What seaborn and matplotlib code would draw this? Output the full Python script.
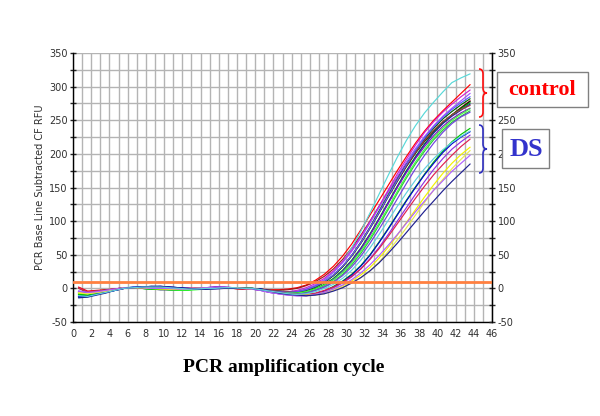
import numpy as np
import pandas as pd
import matplotlib
matplotlib.use("Agg")
import matplotlib.pyplot as plt
from matplotlib.path import Path
from matplotlib.patches import PathPatch, Rectangle
import seaborn as sns

# ---------------- data ----------------
cycles = list(range(1, 45))          # PCR cycle number
x_offset = -0.4                      # cycles are drawn slightly left of the integer ticks
threshold = 10

y_ticks = [-50, 0, 50, 100, 150, 200, 250, 300, 350]
y_labels_left = ["-50", "0", "50", "100", "150", "200", "250", "300", "350"]
# right-hand labels as visible in the reference (300 and most of 200 are hidden by the boxes)
y_labels_right = ["-50", "0", "50", "100", "150", "2", "250", "", "350"]
x_ticks = list(range(0, 47, 2))

# control wells
red1 = [2, -4, -3, -2, -1, 1, 1, 1, 0, -1, -1, -1, 0, 0, 0, 0, 1, 0, -1, -1, -1, -2,
        -2, -1, 1, 5, 12, 21, 33, 48, 66, 87, 109, 131, 153, 175, 196, 216, 234, 250, 264, 277, 290, 303]
darkred1 = [1, -5, -4, -2, -1, 1, 1, 1, 0, 0, -1, -1, -1, 0, 0, 0, 0, 0, -1, -1, -2, -3,
            -3, -2, 0, 4, 10, 18, 29, 43, 60, 79, 100, 122, 144, 165, 185, 203, 219, 233, 246, 258, 269, 279]
cyan1 = [-14, -13, -9, -6, -3, 1, 2, 2, 3, 2, 1, 0, -1, -1, -1, 0, 0, 1, 1, 0, -1, -3,
         -4, -5, -4, -1, 4, 12, 24, 40, 60, 85, 112, 140, 168, 195, 220, 242, 261, 277, 292, 306, 313, 319]
magenta1 = [-5, -7, -5, -3, -1, 1, 1, 1, 0, 0, -1, -1, 0, 0, 1, 2, 1, 0, 0, -1, -2, -5,
            -5, -5, -3, 1, 7, 15, 26, 40, 57, 77, 99, 122, 146, 170, 192, 213, 232, 248, 262, 274, 285, 295]
violet1 = [-8, -9, -6, -4, -2, 1, 1, 0, -1, -2, -2, -3, -2, -1, 0, 0, 1, 1, 0, 0, -2, -4,
           -5, -6, -5, -1, 5, 13, 24, 38, 55, 75, 97, 120, 143, 166, 188, 208, 226, 242, 256, 268, 279, 290]
black1 = [-12, -11, -8, -5, -3, 0, 1, 2, 2, 1, 0, 0, -1, -1, 0, 0, 0, 1, 0, 0, -1, -3,
          -4, -6, -6, -3, 2, 9, 19, 32, 48, 67, 89, 112, 136, 159, 181, 201, 219, 234, 247, 258, 268, 278]
darkgreen1 = [-9, -10, -7, -5, -2, 1, 1, 0, -1, -2, -2, -2, -2, -1, 0, 0, 1, 1, 0, -1, -2, -4,
              -5, -6, -6, -3, 2, 9, 19, 32, 49, 69, 91, 115, 139, 162, 184, 204, 222, 238, 252, 263, 273, 282]
green1 = [-7, -8, -6, -4, -2, 1, 1, 0, -1, -1, -2, -2, -2, -1, 0, 0, 1, 1, 0, 0, -1, -4,
          -5, -7, -7, -5, 0, 6, 15, 27, 42, 60, 81, 104, 128, 152, 175, 196, 215, 232, 246, 258, 267, 276]
navy1 = [-13, -12, -9, -6, -3, 0, 1, 2, 3, 3, 2, 1, 0, -1, -1, -1, 0, 0, 0, 0, -1, -3,
         -5, -7, -8, -6, -1, 5, 14, 26, 41, 59, 80, 103, 127, 151, 174, 195, 214, 231, 245, 256, 265, 274]
purple1 = [-6, -8, -6, -4, -2, 0, 1, 1, 0, 0, 0, -1, -1, 0, 1, 2, 2, 1, 0, -1, -3, -6,
           -8, -9, -9, -7, -2, 4, 13, 25, 40, 58, 79, 102, 126, 150, 172, 193, 211, 227, 241, 252, 261, 268]
green2 = [-10, -10, -7, -5, -2, 1, 1, 1, 0, -1, -1, -2, -2, -1, 0, 0, 0, 1, 0, 0, -2, -4,
          -6, -8, -9, -7, -3, 2, 10, 21, 35, 52, 72, 94, 117, 141, 164, 185, 204, 221, 235, 247, 256, 264]
darkred2 = [0, -6, -5, -3, -1, 1, 1, 1, 0, 0, -1, -1, -1, 0, 0, 0, 1, 0, -1, -1, -2, -3,
            -4, -5, -5, -2, 3, 10, 20, 33, 49, 68, 90, 113, 137, 160, 182, 202, 220, 235, 248, 258, 266, 272]
blue1 = [-4, -6, -4, -3, -1, 1, 1, 1, 1, 0, 0, -1, -1, 0, 1, 1, 1, 0, 0, -1, -2, -4,
         -5, -6, -5, -2, 3, 10, 20, 33, 49, 68, 90, 113, 137, 161, 184, 205, 224, 240, 254, 266, 276, 285]
lightgreen1 = [-8, -9, -7, -5, -2, 1, 1, 0, -1, -1, -2, -3, -3, -2, -1, 0, 0, 1, 0, 0, -2, -4,
               -6, -7, -7, -5, -1, 5, 13, 24, 38, 55, 75, 97, 120, 144, 167, 188, 207, 224, 238, 250, 259, 267]
blueviolet1 = [-6, -8, -6, -4, -2, 0, 1, 1, 1, 0, 0, -1, -1, 0, 1, 1, 1, 0, 0, -1, -2, -5,
               -7, -9, -9, -7, -3, 2, 9, 19, 32, 48, 67, 88, 110, 133, 156, 178, 198, 216, 232, 245, 255, 262]

# DS wells
ds_green = [-9, -10, -7, -5, -2, 1, 1, 0, -1, -1, -2, -2, -2, -1, 0, 0, 0, 1, 0, 0, -2, -5,
            -7, -9, -10, -10, -8, -4, 3, 11, 21, 34, 50, 69, 89, 110, 131, 151, 170, 188, 204, 218, 229, 238]
ds_blue = [-12, -12, -9, -6, -3, 0, 2, 2, 2, 3, 2, 1, 0, -1, -1, 0, 0, 0, 0, 0, -1, -4,
           -6, -8, -10, -10, -8, -4, 2, 10, 20, 33, 49, 68, 88, 109, 130, 150, 169, 186, 202, 215, 225, 233]
ds_purple = [-5, -7, -6, -4, -2, 0, 1, 1, 0, 0, -1, -1, 0, 0, 1, 2, 2, 1, 0, -1, -3, -6,
             -8, -10, -11, -11, -9, -5, 1, 8, 17, 29, 44, 61, 80, 100, 120, 140, 159, 177, 193, 207, 218, 228]
ds_red = [1, -5, -4, -3, -1, 1, 1, 1, 0, 0, -1, -1, 0, 0, 0, 0, 1, 0, -1, -1, -2, -4,
          -6, -8, -9, -9, -7, -3, 2, 9, 18, 29, 43, 59, 77, 96, 115, 134, 152, 169, 184, 198, 211, 222]
ds_yellow1 = [-7, -8, -6, -4, -2, 1, 1, 1, 0, -1, -1, -1, -1, 0, 0, 0, 1, 1, 0, 0, -2, -5,
              -7, -9, -10, -10, -9, -6, -1, 4, 11, 20, 31, 45, 61, 79, 98, 117, 136, 154, 171, 186, 199, 210]
ds_yellow2 = [-6, -8, -6, -4, -2, 1, 1, 1, 0, 0, -1, -1, -1, 0, 0, 0, 1, 1, 0, -1, -2, -5,
              -7, -9, -10, -11, -10, -8, -3, 2, 8, 16, 26, 39, 55, 72, 90, 109, 128, 146, 162, 178, 192, 205]
ds_violet = [-4, -6, -5, -3, -1, 1, 1, 1, 0, 0, 0, -1, -1, 0, 1, 1, 1, 0, 0, -1, -3, -6,
             -8, -10, -11, -11, -9, -6, -1, 5, 13, 23, 35, 49, 64, 80, 97, 114, 130, 146, 160, 174, 186, 198]
ds_navy = [-14, -13, -10, -7, -3, 0, 1, 2, 3, 3, 2, 1, 0, -1, -1, 0, 0, 0, 0, 0, -2, -4,
           -7, -9, -10, -11, -10, -8, -4, 1, 8, 16, 26, 38, 52, 67, 83, 99, 115, 130, 145, 159, 172, 185]
ds_cyan = [-11, -12, -9, -6, -3, 0, 1, 2, 2, 2, 1, 0, -1, -1, 0, 0, 1, 1, 0, 0, -2, -4,
           -6, -8, -9, -8, -5, 0, 6, 15, 27, 42, 60, 80, 101, 122, 142, 161, 178, 193, 206, 217, 226, 234]

wells = {
    "red1": red1, "darkred1": darkred1, "cyan1": cyan1, "magenta1": magenta1,
    "violet1": violet1, "black1": black1, "darkgreen1": darkgreen1, "green1": green1,
    "navy1": navy1, "purple1": purple1, "green2": green2, "darkred2": darkred2,
    "blue1": blue1, "lightgreen1": lightgreen1, "blueviolet1": blueviolet1,
    "ds_green": ds_green, "ds_blue": ds_blue, "ds_purple": ds_purple, "ds_red": ds_red,
    "ds_yellow1": ds_yellow1, "ds_yellow2": ds_yellow2, "ds_violet": ds_violet,
    "ds_navy": ds_navy, "ds_cyan": ds_cyan,
}

colors = {
    "red1": "#ff0000", "darkred1": "#a01818", "cyan1": "#58d8d8", "magenta1": "#d020d0",
    "violet1": "#a050ff", "black1": "#101010", "darkgreen1": "#006400", "green1": "#00b400",
    "navy1": "#2020a0", "purple1": "#8010c8", "green2": "#30c040", "darkred2": "#984040",
    "blue1": "#5858ff", "lightgreen1": "#40ff40", "blueviolet1": "#7040e0",
    "ds_green": "#00c800", "ds_blue": "#0000d0", "ds_purple": "#9030e0", "ds_red": "#e02050",
    "ds_yellow1": "#f2f200", "ds_yellow2": "#e8e850", "ds_violet": "#b060ff",
    "ds_navy": "#202090", "ds_cyan": "#60d0e0",
}

rows = []
for name, vals in wells.items():
    assert len(vals) == len(cycles), name
    for c, v in zip(cycles, vals):
        rows.append({"well": name, "cycle": c + x_offset, "rfu": v})
df = pd.DataFrame(rows)

# ---------------- figure ----------------
sns.set_style("white")
plt.rcParams["font.family"] = ["DejaVu Sans"]

W, H = 600, 416
fig = plt.figure(figsize=(6.0, 4.16), dpi=100)
ax = fig.add_axes([73 / W, 1 - 322 / H, (492 - 73) / W, (322 - 53) / H])

ax.set_xlim(0, 46)
ax.set_ylim(-50, 350)
ax.set_xticks(x_ticks)
ax.set_xticks(range(0, 47), minor=True)
ax.set_yticks(y_ticks)
ax.set_yticklabels(y_labels_left)
ax.set_yticks(range(-50, 351, 25), minor=True)
ax.grid(True, which="both", color="#b4b4b4", linewidth=1.0)
ax.set_axisbelow(True)

sns.lineplot(data=df, x="cycle", y="rfu", hue="well", palette=colors,
             estimator=None, sort=False, legend=False, linewidth=0.85, ax=ax)
ax.axhline(threshold, color="#ff8040", linewidth=2.0, zorder=3)

ax.set_xlabel("")
ax.set_ylabel("PCR Base Line Subtracted CF RFU", fontsize=7, color="#303030", labelpad=3)
ax.tick_params(axis="y", which="both", direction="inout", length=4, width=1,
               labelsize=7, labelcolor="#303030", pad=2)
ax.tick_params(axis="x", which="both", direction="inout", length=4, width=1,
               labelsize=7, labelcolor="#303030", pad=3)
for side in ["left", "right", "bottom"]:
    ax.spines[side].set_color("black")
    ax.spines[side].set_linewidth(1.0)
ax.spines["top"].set_visible(False)

# right-hand axis (same scale)
ax2 = ax.twinx()
ax2.set_ylim(ax.get_ylim())
ax2.set_yticks(y_ticks)
ax2.set_yticklabels(y_labels_right)
ax2.set_yticks(range(-50, 351, 25), minor=True)
ax2.tick_params(axis="y", which="both", direction="inout", length=4, width=1,
                labelsize=7, labelcolor="#303030", pad=2)
ax2.grid(False)
for side in ["top", "left", "bottom"]:
    ax2.spines[side].set_visible(False)
ax2.spines["right"].set_color("black")

fig.text(284 / W, 1 - 368 / H, "PCR amplification cycle", ha="center", va="center",
         fontsize=14, fontweight="bold", family="Liberation Serif", color="black")

def px(x, y):
    return (x / W, 1 - y / H)

def brace(xp, y0, y1, color):
    ym = (y0 + y1) / 2
    pts = [(xp - 4, y0), (xp, y0), (xp, y0 + 5),
           (xp, ym - 5),
           (xp, ym), (xp + 4, ym),
           (xp, ym), (xp, ym + 5),
           (xp, y1 - 5),
           (xp, y1), (xp - 4, y1)]
    codes = [Path.MOVETO, Path.CURVE3, Path.CURVE3, Path.LINETO,
             Path.CURVE3, Path.CURVE3, Path.CURVE3, Path.CURVE3,
             Path.LINETO, Path.CURVE3, Path.CURVE3]
    path = Path([px(*p) for p in pts], codes)
    fig.add_artist(PathPatch(path, fill=False, edgecolor=color, linewidth=1.2,
                             transform=fig.transFigure))

brace(483, 69, 117, "#ff1010")
brace(483, 125, 173, "#3030c0")

fig.add_artist(Rectangle(px(497, 107), 91 / W, 35 / H, transform=fig.transFigure,
                         facecolor="white", edgecolor="#808080", linewidth=1.0, zorder=2))
fig.add_artist(Rectangle(px(502, 168), 47 / W, 39 / H, transform=fig.transFigure,
                         facecolor="white", edgecolor="#808080", linewidth=1.0, zorder=2))
fig.text(*px(542.5, 90), "control", ha="center", va="center", fontsize=16,
         fontweight="bold", family="Liberation Serif", color="#ff0000", zorder=4)
fig.text(*px(526, 149), "DS", ha="center", va="center", fontsize=19,
         fontweight="bold", family="Liberation Serif", color="#3333cc", zorder=4)

fig.savefig("out.png", dpi=100)
